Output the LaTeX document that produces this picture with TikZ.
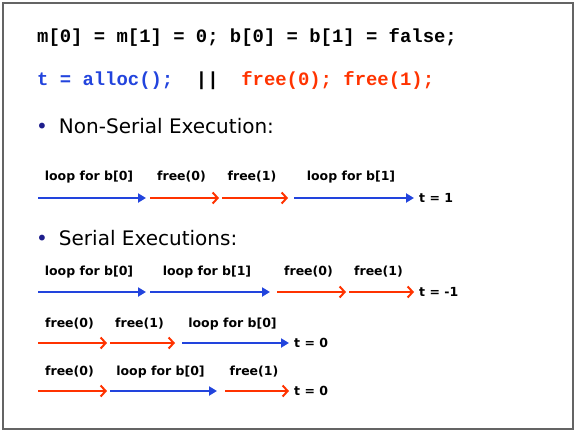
\documentclass[tikz,border=0pt]{standalone}
\usepackage{fontspec}
\setmainfont{DejaVu Sans}
\setmonofont{Liberation Mono}
\usetikzlibrary{arrows.meta,positioning}
\definecolor{codeblue}{RGB}{34,68,221}
\definecolor{codered}{RGB}{255,51,0}
\definecolor{navy}{RGB}{30,30,140}
\definecolor{framegray}{RGB}{100,100,100}
\tikzset{
  blue step/.style={draw=codeblue, line width=2pt, -{Triangle[length=8pt,width=9pt]}},
  red step/.style={draw=codered, line width=2pt, -{Straight Barb[length=5pt,width=11pt,line width=2pt]}},
  step label/.style={font=\bfseries\fontsize{12.5}{14}\selectfont, inner sep=0pt},
  result/.style={font=\bfseries\fontsize{12.5}{14}\selectfont, inner sep=0pt},
  code/.style={font=\ttfamily\bfseries\fontsize{18.9}{22}\selectfont, anchor=west, inner sep=0pt},
  bullet/.style={font=\fontsize{20}{24}\selectfont, anchor=west, inner sep=0pt},
}
\begin{document}
\begin{tikzpicture}[x=1pt,y=-1pt]
		\useasboundingbox (0,0) rectangle (576,431);
		% frame
		\draw[framegray,line width=1.5pt] (3,3) rectangle (573,429);
		% program
		\node[code] (init) at (37,37) {m[0] = m[1] = 0; b[0] = b[1] = false;};
		\node[code] (prog) at (37,81) {\textcolor{codeblue}{t = alloc();}\ \ ||\ \ \textcolor{codered}{free(0); free(1);}};
		% headings
		\node[bullet] (nonserial) at (36,126) {\textcolor{navy}{•}\hspace{11pt}Non-Serial Execution:};
		\node[bullet] (serial) at (36,238) {\textcolor{navy}{•}\hspace{11pt}Serial Executions:};
		% Non-serial run
		\foreach \from/\to/\kind/\txt [count=\i] in {38/146/blue/loop for b[0], 150/219/red/free(0), 222/288/red/free(1), 294/414/blue/loop for b[1]}{
		\coordinate (ns\i) at (\from,198);
		\coordinate (ne\i) at (\to,198);
		\draw[\kind\space step] (ns\i) -- (ne\i);
		\node[step label] (nl\i) at ({(\from+\to)/2-3},177) {\txt};
		}
		\node[result,right=5pt of ne4] (nres) {t = 1};
		% Serial run 1
		\foreach \from/\to/\kind/\txt [count=\i] in {38/146/blue/loop for b[0], 150/270/blue/loop for b[1], 277/346/red/free(0), 349/414/red/free(1)}{
		\coordinate (as\i) at (\from,292);
		\coordinate (ae\i) at (\to,292);
		\draw[\kind\space step] (as\i) -- (ae\i);
		\node[step label] (al\i) at ({(\from+\to)/2-3},272) {\txt};
		}
		\node[result,right=5pt of ae4] (ares) {t = -1};
		% Serial run 2
		\foreach \from/\to/\kind/\txt [count=\i] in {38/107/red/free(0), 110/175/red/free(1), 182/289/blue/loop for b[0]}{
		\coordinate (bs\i) at (\from,343);
		\coordinate (be\i) at (\to,343);
		\draw[\kind\space step] (bs\i) -- (be\i);
		\node[step label] (bl\i) at ({(\from+\to)/2-3},324) {\txt};
		}
		\node[result,right=5pt of be3] (bres) {t = 0};
		% Serial run 3
		\foreach \from/\to/\kind/\txt [count=\i] in {38/107/red/free(0), 110/217/blue/loop for b[0], 225/289/red/free(1)}{
		\coordinate (cs\i) at (\from,391);
		\coordinate (ce\i) at (\to,391);
		\draw[\kind\space step] (cs\i) -- (ce\i);
		\node[step label] (cl\i) at ({(\from+\to)/2-3},372) {\txt};
		}
		\node[result,right=5pt of ce3] (cres) {t = 0};
\end{tikzpicture}
\end{document}
